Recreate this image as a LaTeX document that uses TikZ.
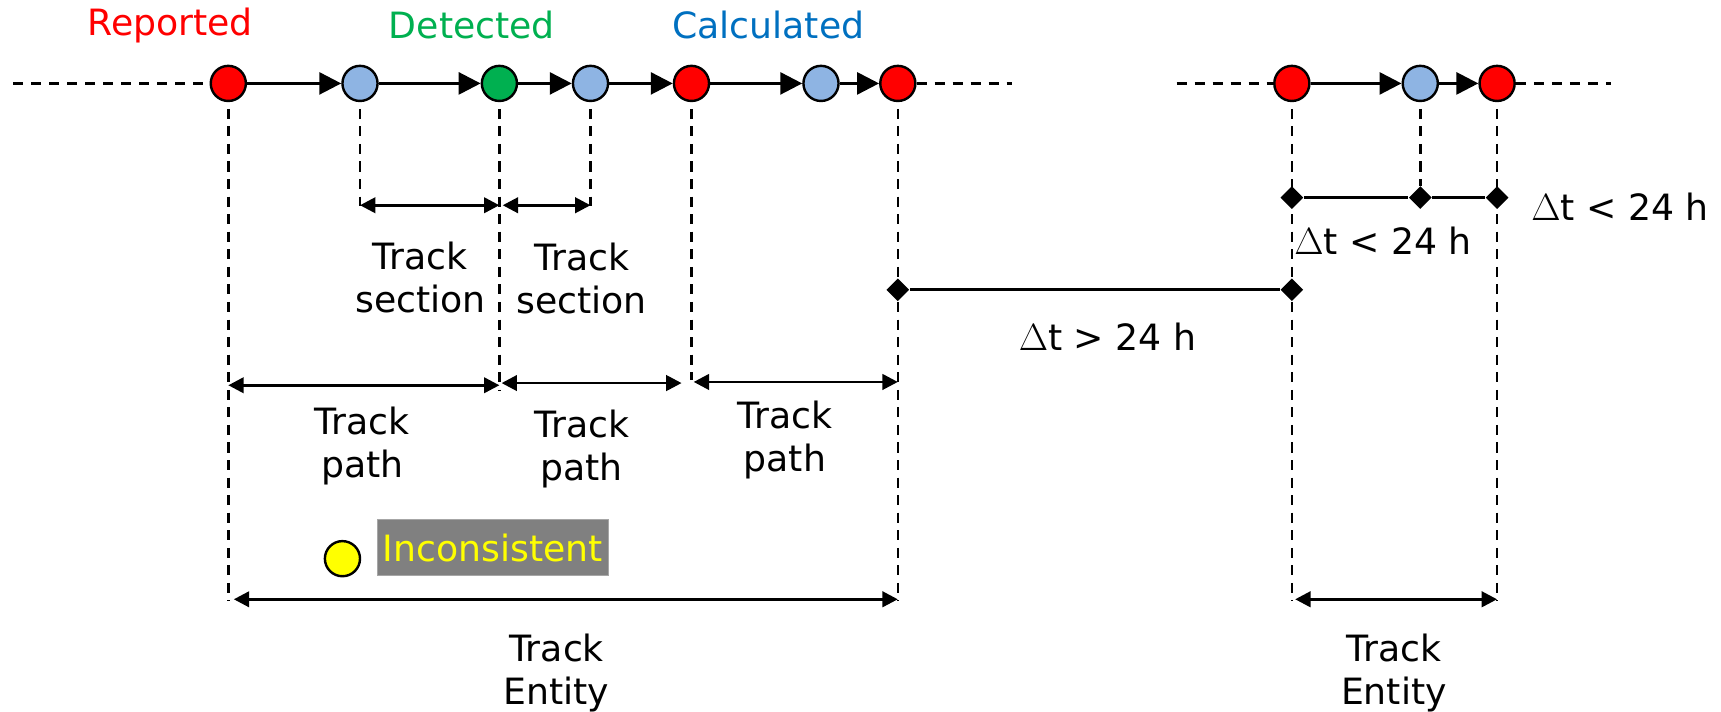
\documentclass[tikz,border=0pt]{standalone}
\usepackage{fontspec}
\setmainfont{DejaVu Sans}
\usetikzlibrary{arrows.meta,shapes.geometric}
\definecolor{repred}{HTML}{FF0000}
\definecolor{detgreen}{HTML}{00B050}
\definecolor{calcblue}{HTML}{0070C0}
\definecolor{ptblue}{HTML}{8EB4E3}
\definecolor{boxgray}{HTML}{808080}
\definecolor{warnyellow}{HTML}{FFFF00}
\begin{document}
\begin{tikzpicture}[x=0.5pt,y=-0.5pt,
  font=\fontsize{16.5}{19.5}\selectfont,
  pt/.style={circle,draw=black,line width=1.1pt,minimum size=16pt,inner sep=0pt},
  rep/.style={pt,fill=repred},
  det/.style={pt,fill=detgreen},
  calc/.style={pt,fill=ptblue},
  flow/.style={-{Triangle[length=10pt,width=10pt]},line width=1.3pt},
  ext/.style={line width=1.2pt,dash pattern=on 4.6pt off 3.6pt},
  guide/.style={line width=1.2pt,dash pattern=on 4.6pt off 3.4pt},
  span/.style={{Triangle[length=7pt,width=7pt]}-{Triangle[length=7pt,width=7pt]},line width=1.3pt},
  gap/.style={line width=1.3pt},
  tick/.style={diamond,fill=black,inner sep=0pt,minimum size=10.5pt},
  lbl/.style={align=center,inner sep=0pt}
]
\useasboundingbox (0,0) rectangle (1568,648);

% event categories
\node[lbl,text=repred]   (tReported)   at (155,23) {Reported};
\node[lbl,text=detgreen] (tDetected)   at (430,23) {Detected};
\node[lbl,text=calcblue] (tCalculated) at (700,23) {Calculated};

% first track: points in time order
\node[rep]  (a1) at (208,76) {};
\node[calc] (a2) at (328,76) {};
\node[det]  (a3) at (455,76) {};
\node[calc] (a4) at (538,76) {};
\node[rep]  (a5) at (630,76) {};
\node[calc] (a6) at (748,76) {};
\node[rep]  (a7) at (818,76) {};

% second track
\node[rep]  (b1) at (1177,76) {};
\node[calc] (b2) at (1294,76) {};
\node[rep]  (b3) at (1364,76) {};

% open ends of the timelines
\coordinate (la) at (12,76);
\coordinate (ra) at (922,76);
\coordinate (lb) at (1072,76);
\coordinate (rb) at (1468,76);
\draw[ext] (la) -- (a1);
\draw[ext] (a7) -- (ra);
\draw[ext] (lb) -- (b1);
\draw[ext] (b3) -- (rb);

% links between consecutive points
\draw[flow] (a1) -- (a2);
\draw[flow] (a2) -- (a3);
\draw[flow] (a3) -- (a4);
\draw[flow] (a4) -- (a5);
\draw[flow] (a5) -- (a6);
\draw[flow] (a6) -- (a7);
\draw[flow] (b1) -- (b2);
\draw[flow] (b2) -- (b3);

% ends of the vertical guides
\coordinate (g1) at (208,548);
\coordinate (g2) at (328,188);
\coordinate (g3) at (455,356);
\coordinate (g4) at (538,188);
\coordinate (g5) at (630,346);
\coordinate (g7) at (818,548);
\coordinate (h1) at (1177,548);
\coordinate (h3) at (1364,548);

\draw[guide] ([yshift=-3pt]a1.south) -- (g1);
\draw[guide] ([yshift=-3pt]a2.south) -- (g2);
\draw[guide] ([yshift=-3pt]a3.south) -- (g3);
\draw[guide] ([yshift=-3pt]a4.south) -- (g4);
\draw[guide] ([yshift=-3pt]a5.south) -- (g5);
\draw[guide] ([yshift=-3pt]a7.south) -- (g7);
\draw[guide] ([yshift=-3pt]b1.south) -- (h1);
\draw[guide] ([yshift=-3pt]b3.south) -- (h3);

% track sections
\coordinate (s1) at (328,187);
\coordinate (s2) at (455,187);
\coordinate (s3) at (458,187);
\coordinate (s4) at (538,187);
\draw[span] (s1) -- (s2);
\draw[span] (s3) -- (s4);
\node[lbl] (tSec1) at (383,253) {Track\\section};
\node[lbl] (tSec2) at (530,254) {Track\\section};

% track paths
\coordinate (p1) at (208,351);
\coordinate (p2) at (455,351);
\coordinate (p3) at (457,349);
\coordinate (p4) at (621,349);
\coordinate (p5) at (632,348);
\coordinate (p6) at (818,348);
\draw[span] (p1) -- (p2);
\draw[span] (p3) -- (p4);
\draw[span] (p5) -- (p6);
\node[lbl] (tPath1) at (330,406) {Track\\path};
\node[lbl] (tPath2) at (530,409) {Track\\path};
\node[lbl] (tPath3) at (715,401) {Track\\path};

% inconsistent marker
\node[pt,fill=warnyellow] (inc) at (312,509) {};
\node[fill=boxgray,draw=black!35,line width=0.4pt,text=warnyellow,minimum width=105pt,minimum height=25.5pt,inner sep=0pt] (tInc) at (449,499) {Inconsistent};

% track entities
\coordinate (e1) at (213,546);
\coordinate (e2) at (818,546);
\draw[span] (e1) -- (e2);
\node[lbl] (tEnt1) at (507,613) {Track\\Entity};
\coordinate (f1) at (1180,546);
\coordinate (f2) at (1364,546);
\draw[span] (f1) -- (f2);
\node[lbl] (tEnt2) at (1270,613) {Track\\Entity};

% time gaps
\node[tick] (d1) at (818,264) {};
\node[tick] (d2) at (1177,264) {};
\node[tick] (d3) at (1177,180) {};
\node[tick] (d4) at (1294,180) {};
\node[tick] (d5) at (1364,180) {};
\draw[guide] ([yshift=-3pt]b2.south) -- (d4);
\draw[gap] (d1) -- (d2);
\draw[gap] (d3) -- (d4);
\draw[gap] (d4) -- (d5);
\node[lbl] (tGapLong)  at (1009,307) {$\Delta$t > 24 h};
\node[lbl] (tGapShort1) at (1260,219) {$\Delta$t < 24 h};
\node[lbl] (tGapShort2) at (1476,188) {$\Delta$t < 24 h};
\end{tikzpicture}
\end{document}
